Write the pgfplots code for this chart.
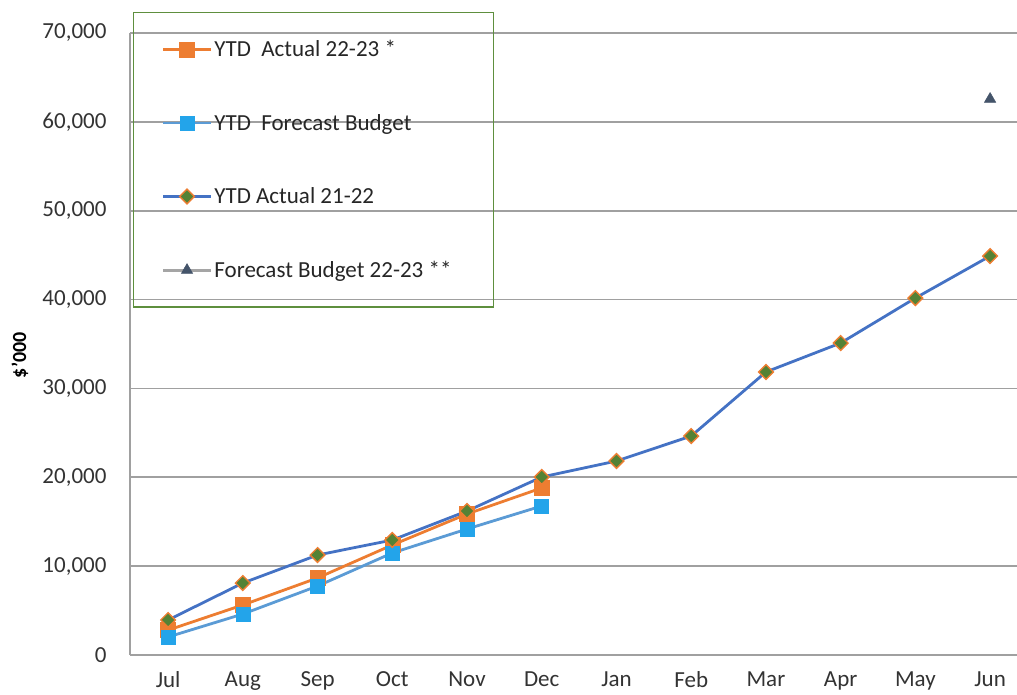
\documentclass[border=0pt]{standalone}
\usepackage{pgfplots}
\pgfplotsset{compat=1.18}
\usepackage{fontspec}
\setmainfont{Carlito}
\definecolor{cOrange}{HTML}{ED7D31}
\definecolor{cLBlue}{HTML}{5B9BD5}
\definecolor{cLBlueM}{HTML}{23A4EA}
\definecolor{cDBlue}{HTML}{4472C4}
\definecolor{cGreen}{HTML}{548235}
\definecolor{cTri}{HTML}{44546A}
\definecolor{cGrayL}{HTML}{A5A5A5}
\definecolor{cGrid}{HTML}{A0A0A0}
\definecolor{cLegBorder}{HTML}{5E8F3E}
\begin{document}
\begin{tikzpicture}
\useasboundingbox (-130pt,-40pt) rectangle (887pt,655pt);
\begin{axis}[
  scale only axis,
  width=887pt, height=622pt,
  at={(0,0)}, anchor=south west,
  xmin=-0.51, xmax=11.36,
  ymin=0, ymax=70000,
  xtick={0,...,11},
  xticklabels={Jul,Aug,Sep,Oct,Nov,Dec,Jan,Feb,Mar,Apr,May,Jun},
  ytick={0,10000,...,70000},
  major tick length=0pt,
  ymajorgrids,
  grid style={cGrid, line width=1.6pt},
  axis x line*=bottom, axis y line*=left,
  axis line style={cGrid, line width=1.6pt, -},
  scaled y ticks=false,
  /pgf/number format/.cd, 1000 sep={,}, assume math mode=true, /pgfplots/.cd,
  tick label style={font=\fontsize{23}{27}\selectfont, text=black!80},
  yticklabel style={xshift=-20pt},
  xticklabel style={yshift=-13pt},
  ylabel={\textbf{\$'000}},
  ylabel style={font=\fontsize{20}{24}\selectfont, at={(axis description cs:-0.124,0.482)}, anchor=center},
  legend style={draw=cLegBorder, line width=1.2pt, at={(axis description cs:0.0034,1.034)}, anchor=north west,
    font=\fontsize{23}{27}\selectfont, text=black!85, row sep=52pt, inner xsep=28pt, inner ysep=26pt, fill=none},
  legend cell align=left,
  legend image code/.code={\draw[#1, mark repeat=2, mark phase=2] plot coordinates {(0pt,0pt) (24pt,0pt) (48pt,0pt)};},
]
\addplot[cOrange, line width=2.8pt, mark=square*, mark size=7.5pt, mark options={fill=cOrange, draw=cOrange, line width=0.5pt}]
 coordinates {(0,2800) (1,5630) (2,8670) (3,12380) (4,15870) (5,18800)};
\addlegendentry{YTD\ \ Actual 22-23 *}
\addplot[cLBlue, line width=2.8pt, mark=square*, mark size=7pt, mark options={fill=cLBlueM, draw=cLBlueM, line width=0.5pt}]
 coordinates {(0,2030) (1,4610) (2,7760) (3,11480) (4,14180) (5,16770)};
\addlegendentry{YTD\ \ Forecast Budget}
\addplot[cDBlue, line width=2.8pt, mark=square*, mark size=5.2pt, mark options={rotate=45, fill=cGreen, draw=cOrange, line width=1.4pt}]
 coordinates {(0,3940) (1,8100) (2,11250) (3,12940) (4,16200) (5,20030) (6,21830) (7,24640) (8,31850) (9,35110) (10,40170) (11,44900)};
\addlegendentry{YTD Actual 21-22}
\addplot[cGrayL, line width=2.8pt, mark=triangle*, mark size=6.5pt, mark options={fill=cTri, draw=cTri, line width=0.5pt}]
 coordinates {(11,62570)};
\addlegendentry{Forecast Budget 22-23 **\rule{12pt}{0pt}}
\end{axis}
\end{tikzpicture}
\end{document}
